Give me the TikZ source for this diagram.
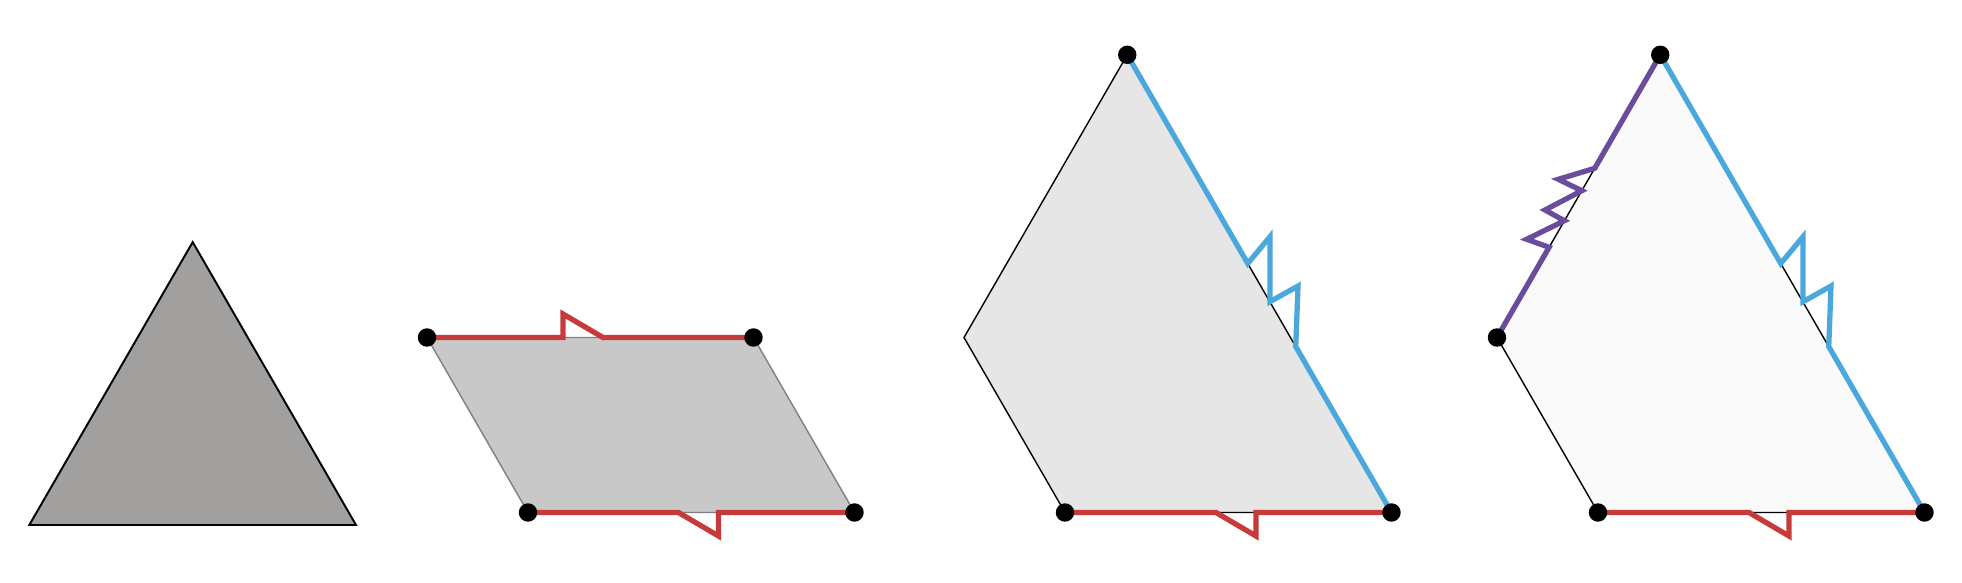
\documentclass[tikz,border=0pt]{standalone}
\definecolor{cutred}{HTML}{C83A3A}
\definecolor{cutblue}{HTML}{4AA8DC}
\definecolor{cutpurple}{HTML}{6A4C9C}
\definecolor{tileA}{HTML}{A2A09E}
\definecolor{tileB}{HTML}{C8C8C8}
\definecolor{tileC}{HTML}{E6E6E6}
\definecolor{tileD}{HTML}{FAFAFA}
\begin{document}
\begin{tikzpicture}[x=0.02cm, y=-0.02cm,
    dot/.style={circle, fill=black, inner sep=0pt, minimum size=10.5pt},
    rim/.style={line width=3pt},
    edge/.style={line width=0.8pt}]
    \useasboundingbox (0, 0) rectangle (1962, 582);
    % triangle
    \coordinate (a1) at (192.7, 242.1);
    \coordinate (a2) at (29.3, 525);
    \coordinate (a3) at (356, 525);
    \draw[line width=1.1pt, fill=tileA] (a1) -- (a2) -- (a3) -- cycle;
    % parallelogram
    \coordinate (b1) at (427, 337.5);
    \coordinate (b2) at (753.5, 337.5);
    \coordinate (b3) at (854.5, 512.5);
    \coordinate (b4) at (528, 512.5);
    \draw[edge, gray, fill=tileB] (b1) -- (b2) -- (b3) -- (b4) -- cycle;
    \draw[rim, cutred] (b1) -- ++(136, 0) -- ++(0, -23.5) -- ++(40, 23.5) -- (b2);
    \draw[rim, cutred] (b4) -- ++(150.5, 0) -- ++(40, 23.5) -- ++(0, -23.5) -- (b3);
    \node[dot] (p1) at (b1) {};
    \node[dot] (p2) at (b2) {};
    \node[dot] (p3) at (b3) {};
    \node[dot] (p4) at (b4) {};
    % glued piece
    \coordinate (c1) at (1127.25, 54.8);
    \coordinate (c2) at (964, 337.5);
    \coordinate (c3) at (1065, 512.5);
    \coordinate (c4) at (1391.5, 512.5);
    \draw[edge, fill=tileC] (c1) -- (c2) -- (c3) -- (c4) -- cycle;
    \draw[rim, cutred] (c3) -- ++(151, 0) -- ++(40, 23.5) -- ++(0, -23.5) -- (c4);
    \draw[rim, cutblue] (c1) -- ++(120.5, 208.7) -- ++(22.25, -26.8) -- ++(0, 65)
        -- ++(28, -15.7) -- ++(-2.25, 60.6) -- (c4);
    \node[dot] (q1) at (c1) {};
    \node[dot] (q3) at (c3) {};
    \node[dot] (q4) at (c4) {};
    % second glued piece
    \coordinate (d1) at (1660.25, 54.8);
    \coordinate (d2) at (1497, 337.5);
    \coordinate (d3) at (1598, 512.5);
    \coordinate (d4) at (1924.5, 512.5);
    \draw[edge, fill=tileD] (d1) -- (d2) -- (d3) -- (d4) -- cycle;
    \draw[rim, cutred] (d3) -- ++(151, 0) -- ++(40, 23.5) -- ++(0, -23.5) -- (d4);
    \draw[rim, cutblue] (d1) -- ++(120.5, 208.7) -- ++(22.25, -26.8) -- ++(0, 65)
        -- ++(28, -15.7) -- ++(-2.25, 60.6) -- (d4);
    \draw[rim, cutpurple] (d2) -- ++(52.1, -90.2) -- ++(-22.4, -8) -- ++(37.7, -18.6)
        -- ++(-19.4, -10.7) -- ++(36.8, -19.3) -- ++(-23.5, -11.4) -- ++(36.4, -11) -- (d1);
    \node[dot] (r1) at (d1) {};
    \node[dot] (r2) at (d2) {};
    \node[dot] (r3) at (d3) {};
    \node[dot] (r4) at (d4) {};
\end{tikzpicture}
\end{document}
